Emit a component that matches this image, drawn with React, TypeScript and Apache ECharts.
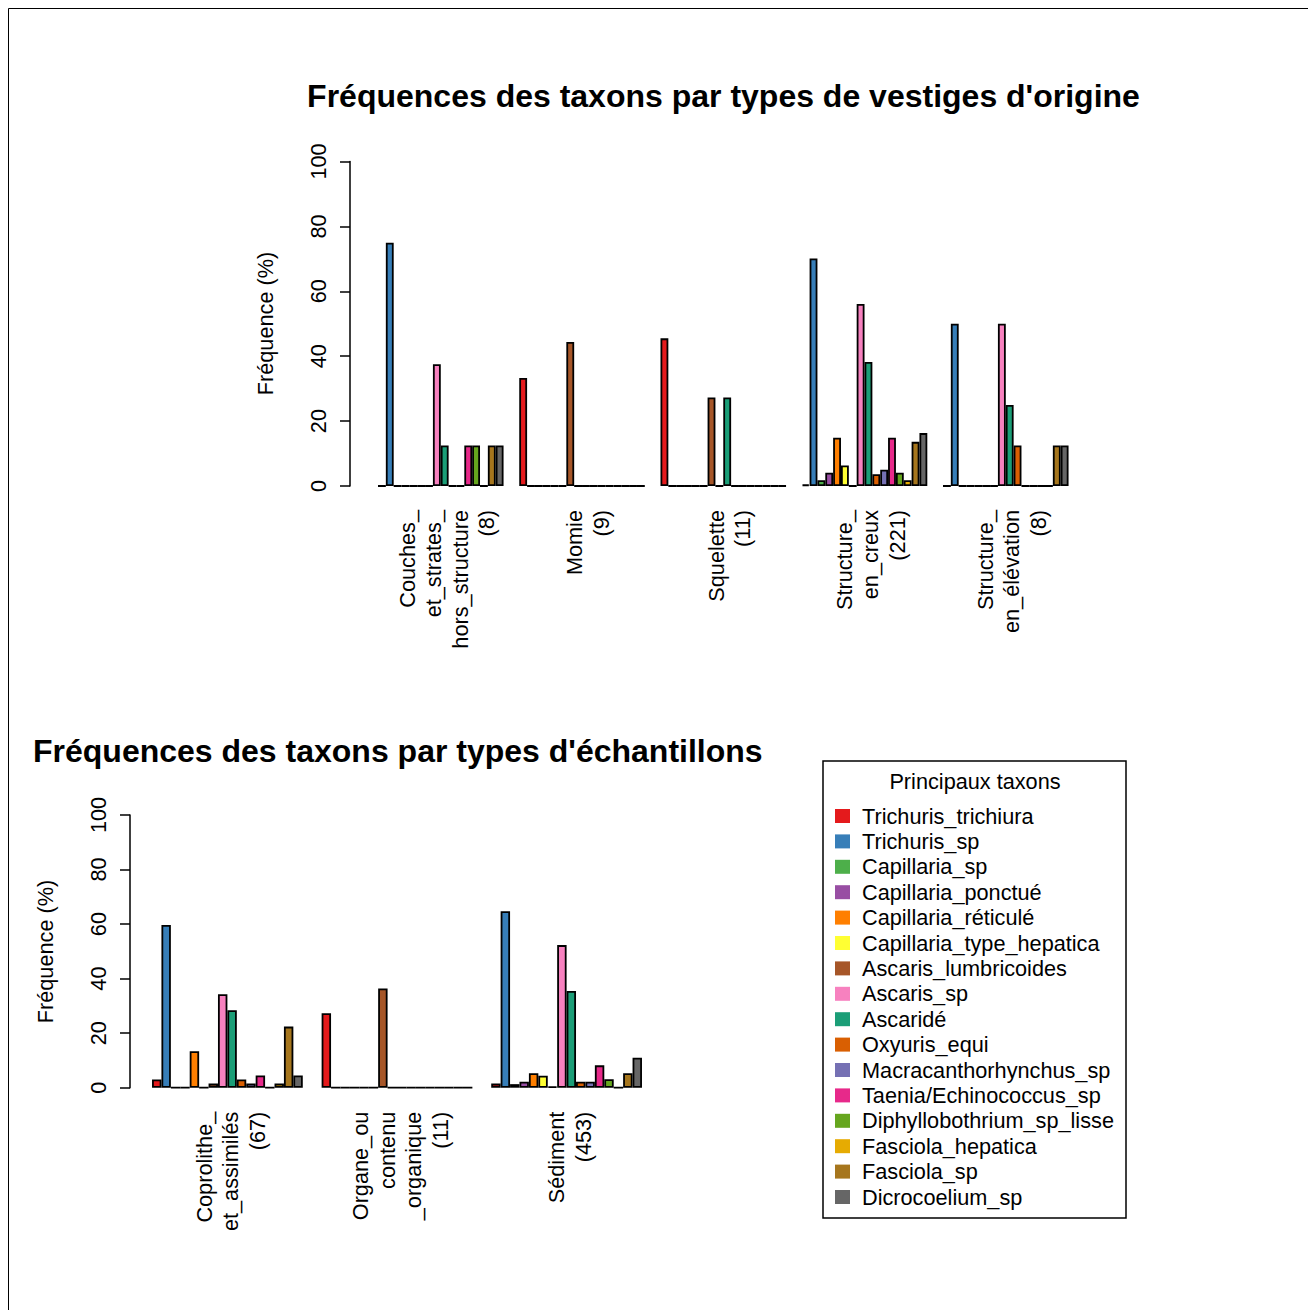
import React, { useEffect, useRef } from "react";
import * as echarts from "echarts";

const FONT = "'Liberation Sans', Arial, Helvetica, sans-serif";

const taxa = [
  "Trichuris_trichiura",
  "Trichuris_sp",
  "Capillaria_sp",
  "Capillaria_ponctué",
  "Capillaria_réticulé",
  "Capillaria_type_hepatica",
  "Ascaris_lumbricoides",
  "Ascaris_sp",
  "Ascaridé",
  "Oxyuris_equi",
  "Macracanthorhynchus_sp",
  "Taenia/Echinococcus_sp",
  "Diphyllobothrium_sp_lisse",
  "Fasciola_hepatica",
  "Fasciola_sp",
  "Dicrocoelium_sp",
];

const taxaColors = [
  "#E41A1C", "#377EB8", "#4DAF4A", "#984EA3", "#FF7F00", "#FFFF33", "#A65628", "#F781BF",
  "#1B9E77", "#D95F02", "#7570B3", "#E7298A", "#66A61E", "#E6AB02", "#A6761D", "#666666",
];

// Top chart: types de vestiges d'origine
const vestigeLabels = [
  "Couches_\net_strates_\nhors_structure\n(8)",
  "Momie\n(9)",
  "Squelette\n(11)",
  "Structure_\nen_creux\n(221)",
  "Structure_\nen_élévation\n(8)",
];
const couches = [0, 75, 0, 0, 0, 0, 0, 37.5, 12.5, 0, 0, 12.5, 12.5, 0, 12.5, 12.5];
const momie = [33.3, 0, 0, 0, 0, 0, 44.4, 0, 0, 0, 0, 0, 0, 0, 0, 0];
const squelette = [45.5, 0, 0, 0, 0, 0, 27.3, 0, 27.3, 0, 0, 0, 0, 0, 0, 0];
const creux = [0.45, 70.1, 1.8, 4.1, 14.9, 6.3, 0, 56.1, 38.2, 3.6, 5.0, 14.9, 4.1, 1.8, 13.6, 16.3];
const elevation = [0, 50, 0, 0, 0, 0, 0, 50, 25, 12.5, 0, 0, 0, 0, 12.5, 12.5];
const vestigeGroups = [couches, momie, squelette, creux, elevation];

// Bottom chart: types d'échantillons
const echantillonLabels = [
  "Coprolithe_\net_assimilés\n(67)",
  "Organe_ou\ncontenu\n_organique\n(11)",
  "Sédiment\n(453)",
];
const coprolithe = [3.0, 59.7, 0, 0, 13.4, 0, 1.5, 34.3, 28.4, 3.0, 1.5, 4.5, 0, 1.5, 22.4, 4.5];
const organe = [27.3, 0, 0, 0, 0, 0, 36.4, 0, 0, 0, 0, 0, 0, 0, 0, 0];
const sediment = [1.5, 64.7, 1.3, 2.2, 5.3, 4.4, 0.4, 52.3, 35.5, 2.2, 2.2, 8.2, 3.1, 0, 5.3, 11.0];
const echantillonGroups = [coprolithe, organe, sediment];

const yMin = 0;
const yMax = 100;
const yInterval = 20;

const topTitle = "Fréquences des taxons par types de vestiges d'origine";
const bottomTitle = "Fréquences des taxons par types d'échantillons";
const yName = "Fréquence (%)";
const legendTitle = "Principaux taxons";

const TXT = 21.7;

function makeYAxis(gridIndex: number, offset: number) {
  return {
    type: "value",
    gridIndex,
    min: yMin,
    max: yMax,
    interval: yInterval,
    offset,
    splitLine: { show: false },
    axisLine: { show: true, lineStyle: { color: "#000", width: 1.5 } },
    axisTick: { show: true, length: 10, inside: false, lineStyle: { color: "#000", width: 1.5 } },
    axisLabel: {
      rotate: 90,
      margin: 21,
      fontSize: TXT,
      fontFamily: FONT,
      color: "#000",
      showMinLabel: true,
      showMaxLabel: true,
    },
  };
}

function makeXAxis(gridIndex: number, data: string[], spacer: number) {
  return {
    type: "category",
    gridIndex,
    data,
    axisLine: { show: false },
    axisTick: { show: false },
    splitLine: { show: false },
    axisLabel: {
      interval: 0,
      rotate: 90,
      margin: 24,
      fontSize: TXT,
      lineHeight: 26.5,
      fontFamily: FONT,
      color: "#000",
      formatter: (v: string) =>
        "{sp|\u00a0}\n" + v.split("\n").map((l) => `{t|${l}}`).join("\n"),
      rich: {
        sp: { fontSize: 1, lineHeight: spacer },
        t: { fontSize: TXT, lineHeight: 26.5, fontFamily: FONT, color: "#000" },
      },
    },
  };
}

export default function App() {
  const ref = useRef<HTMLDivElement>(null);

  useEffect(() => {
    document.documentElement.style.overflow = "hidden";
    document.body.style.overflow = "hidden";
    const chart = echarts.init(ref.current!, null, { renderer: "svg" });

    const series: any[] = [];
    [vestigeGroups, echantillonGroups].forEach((groups, g) => {
      taxa.forEach((name, i) => {
        series.push({
          type: "bar",
          name,
          xAxisIndex: g,
          yAxisIndex: g,
          data: groups.map((grp) => grp[i]),
          barGap: "0%",
          barCategoryGap: "11.11%",
          itemStyle: { color: taxaColors[i], borderColor: "#000", borderWidth: 1.8 },
          emphasis: { disabled: true },
        });
      });
    });

    const textStyle = (size: number, weight: string = "normal") => ({
      fontSize: size,
      fontWeight: weight,
      fontFamily: FONT,
      fill: "#000",
    });

    chart.setOption({
      animation: false,
      backgroundColor: "#fff",
      color: taxaColors,
      grid: [
        { left: 362.15, top: 153.5, width: 706.25, height: 324.5, outerBoundsMode: "none", containLabel: false },
        { left: 134.6, top: 807, width: 508.8, height: 272.7, outerBoundsMode: "none", containLabel: false },
      ],
      xAxis: [makeXAxis(0, vestigeLabels, 12), makeXAxis(1, echantillonLabels, 7)],
      yAxis: [makeYAxis(0, 20.15), makeYAxis(1, 12.6)],
      legend: {
        data: taxa,
        orient: "vertical",
        left: 827,
        top: 797,
        padding: 0,
        itemWidth: 15,
        itemHeight: 14,
        itemGap: 3.4,
        icon: "rect",
        selectedMode: false,
        itemStyle: { borderWidth: 0 },
        textStyle: {
          fontSize: TXT,
          fontFamily: FONT,
          color: "#000",
          lineHeight: 22,
          padding: [0, 0, 0, 7],
        },
      },
      graphic: [
        {
          type: "rect",
          shape: { x: 0.5, y: 0.5, width: 1305, height: 1400 },
          style: { fill: "none", stroke: "#000", lineWidth: 1 },
          silent: true,
        },
        {
          type: "text",
          x: 715.5,
          y: 88,
          style: { text: topTitle, ...textStyle(32, "bold"), textAlign: "center", textVerticalAlign: "middle" },
        },
        {
          type: "text",
          x: 25,
          y: 743,
          style: { text: bottomTitle, ...textStyle(32, "bold"), textAlign: "left", textVerticalAlign: "middle" },
        },
        {
          type: "text",
          x: 257,
          y: 315.5,
          rotation: Math.PI / 2,
          style: { text: yName, ...textStyle(TXT), textAlign: "center", textVerticalAlign: "middle" },
        },
        {
          type: "text",
          x: 37,
          y: 943.5,
          rotation: Math.PI / 2,
          style: { text: yName, ...textStyle(TXT), textAlign: "center", textVerticalAlign: "middle" },
        },
        {
          type: "rect",
          shape: { x: 815, y: 753, width: 303, height: 457 },
          style: { fill: "none", stroke: "#000", lineWidth: 1.5 },
          silent: true,
        },
        {
          type: "text",
          x: 967,
          y: 773,
          style: { text: legendTitle, ...textStyle(TXT), textAlign: "center", textVerticalAlign: "middle" },
        },
      ],
      series,
    });

    return () => chart.dispose();
  }, []);

  return <div ref={ref} style={{ width: 1308, height: 1302 }} />;
}
